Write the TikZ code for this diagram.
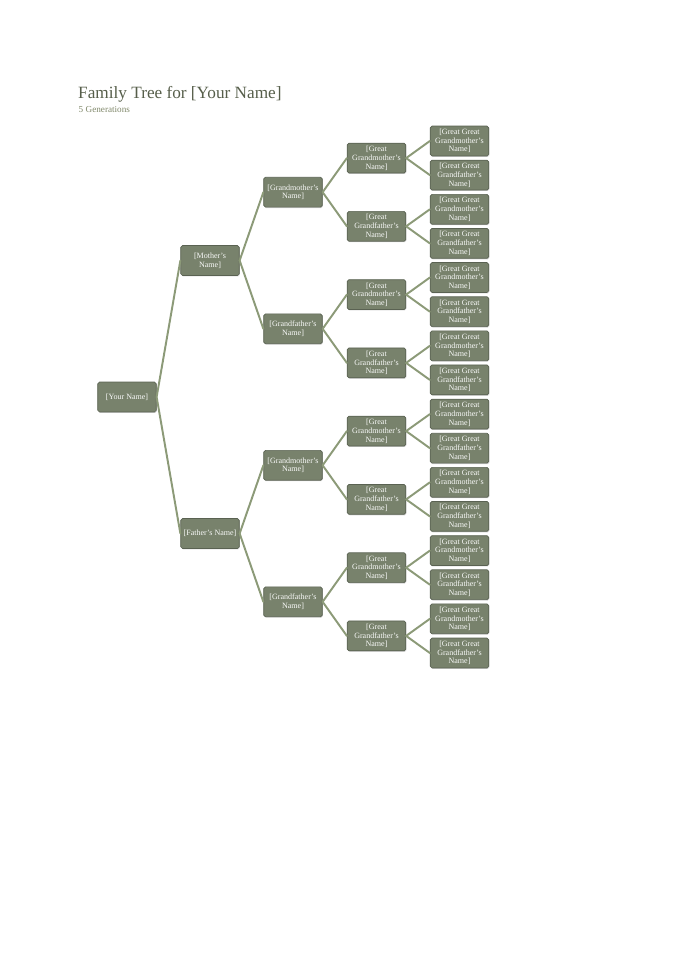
\documentclass[tikz,border=0pt]{standalone}
\usepackage{fontspec}
\setmainfont{Liberation Serif}
\usetikzlibrary{shadows}
\definecolor{boxgreen}{RGB}{120,130,108}
\definecolor{boxedge}{RGB}{90,98,82}
\definecolor{linkgreen}{RGB}{140,154,120}
\definecolor{titlegrey}{RGB}{86,94,74}
\definecolor{subgrey}{RGB}{128,136,106}

\begin{document}
\begin{tikzpicture}[line cap=round,line join=round,x=0.030612cm,y=-0.030612cm,
	person/.style={draw=boxedge,line width=0.6pt,fill=boxgreen,rounded corners=1.5pt,
		minimum width=51pt,minimum height=26pt,inner sep=1pt,align=center,
		text=white!95!boxgreen,font=\fontsize{7}{7.6}\selectfont,
		drop shadow={opacity=0.35,shadow xshift=0.6pt,shadow yshift=-0.8pt}},
	link/.style={draw=linkgreen,line width=1.7pt}]
	\useasboundingbox (0,0) rectangle (686,970);
	\node[anchor=base west,inner sep=0pt,text=titlegrey,font=\fontsize{15}{17}\selectfont] (title) at (78,98) {Family Tree for [Your Name]};
	\node[anchor=base west,inner sep=0pt,text=subgrey,font=\fontsize{8}{9}\selectfont] (subtitle) at (78.5,112) {5 Generations};

	% generation 1-2
	\node[person] (me) at (127,397) {[Your Name]};
	\node[person] (mother) at (210,260.5) {[Mother's\\Name]};
	\node[person] (father) at (210,533.5) {[Father's Name]};
	% generation 3
	\node[person] (gm1) at (293,192.2) {[Grandmother's\\Name]};
	\node[person] (gf1) at (293,328.8) {[Grandfather's\\Name]};
	\node[person] (gm2) at (293,465.3) {[Grandmother's\\Name]};
	\node[person] (gf2) at (293,601.8) {[Grandfather's\\Name]};
	% generation 4
	\node[person] (ggm1) at (376.5,158.1) {[Great\\Grandmother's\\Name]};
	\node[person] (ggf1) at (376.5,226.3) {[Great\\Grandfather's\\Name]};
	\node[person] (ggm2) at (376.5,294.6) {[Great\\Grandmother's\\Name]};
	\node[person] (ggf2) at (376.5,362.9) {[Great\\Grandfather's\\Name]};
	\node[person] (ggm3) at (376.5,431.1) {[Great\\Grandmother's\\Name]};
	\node[person] (ggf3) at (376.5,499.4) {[Great\\Grandfather's\\Name]};
	\node[person] (ggm4) at (376.5,567.7) {[Great\\Grandmother's\\Name]};
	\node[person] (ggf4) at (376.5,635.9) {[Great\\Grandfather's\\Name]};
	% generation 5
	\node[person] (gggm1) at (459.5,141.0) {[Great Great\\Grandmother's\\Name]};
	\node[person] (gggf1) at (459.5,175.1) {[Great Great\\Grandfather's\\Name]};
	\node[person] (gggm2) at (459.5,209.3) {[Great Great\\Grandmother's\\Name]};
	\node[person] (gggf2) at (459.5,243.4) {[Great Great\\Grandfather's\\Name]};
	\node[person] (gggm3) at (459.5,277.5) {[Great Great\\Grandmother's\\Name]};
	\node[person] (gggf3) at (459.5,311.7) {[Great Great\\Grandfather's\\Name]};
	\node[person] (gggm4) at (459.5,345.8) {[Great Great\\Grandmother's\\Name]};
	\node[person] (gggf4) at (459.5,379.9) {[Great Great\\Grandfather's\\Name]};
	\node[person] (gggm5) at (459.5,414.1) {[Great Great\\Grandmother's\\Name]};
	\node[person] (gggf5) at (459.5,448.2) {[Great Great\\Grandfather's\\Name]};
	\node[person] (gggm6) at (459.5,482.3) {[Great Great\\Grandmother's\\Name]};
	\node[person] (gggf6) at (459.5,516.4) {[Great Great\\Grandfather's\\Name]};
	\node[person] (gggm7) at (459.5,550.6) {[Great Great\\Grandmother's\\Name]};
	\node[person] (gggf7) at (459.5,584.7) {[Great Great\\Grandfather's\\Name]};
	\node[person] (gggm8) at (459.5,618.8) {[Great Great\\Grandmother's\\Name]};
	\node[person] (gggf8) at (459.5,653.0) {[Great Great\\Grandfather's\\Name]};

	% links
	\draw[link] (me.east) -- (mother.west);
	\draw[link] (me.east) -- (father.west);
	\draw[link] (mother.east) -- (gm1.west);
	\draw[link] (mother.east) -- (gf1.west);
	\draw[link] (father.east) -- (gm2.west);
	\draw[link] (father.east) -- (gf2.west);
	\draw[link] (gm1.east) -- (ggm1.west);
	\draw[link] (gm1.east) -- (ggf1.west);
	\draw[link] (gf1.east) -- (ggm2.west);
	\draw[link] (gf1.east) -- (ggf2.west);
	\draw[link] (gm2.east) -- (ggm3.west);
	\draw[link] (gm2.east) -- (ggf3.west);
	\draw[link] (gf2.east) -- (ggm4.west);
	\draw[link] (gf2.east) -- (ggf4.west);
	\draw[link] (ggm1.east) -- (gggm1.west);
	\draw[link] (ggm1.east) -- (gggf1.west);
	\draw[link] (ggf1.east) -- (gggm2.west);
	\draw[link] (ggf1.east) -- (gggf2.west);
	\draw[link] (ggm2.east) -- (gggm3.west);
	\draw[link] (ggm2.east) -- (gggf3.west);
	\draw[link] (ggf2.east) -- (gggm4.west);
	\draw[link] (ggf2.east) -- (gggf4.west);
	\draw[link] (ggm3.east) -- (gggm5.west);
	\draw[link] (ggm3.east) -- (gggf5.west);
	\draw[link] (ggf3.east) -- (gggm6.west);
	\draw[link] (ggf3.east) -- (gggf6.west);
	\draw[link] (ggm4.east) -- (gggm7.west);
	\draw[link] (ggm4.east) -- (gggf7.west);
	\draw[link] (ggf4.east) -- (gggm8.west);
	\draw[link] (ggf4.east) -- (gggf8.west);
\end{tikzpicture}
\end{document}
